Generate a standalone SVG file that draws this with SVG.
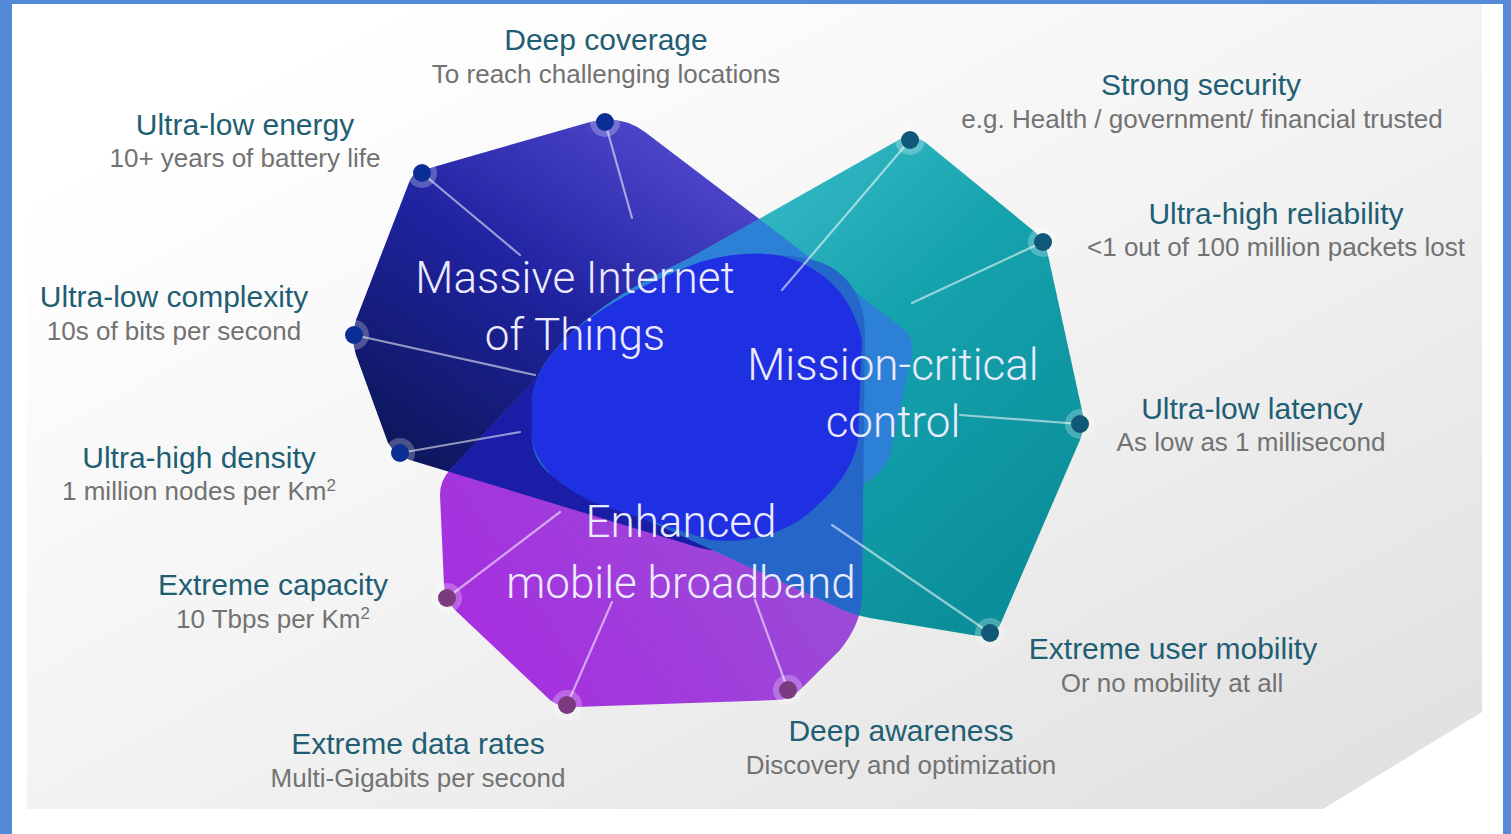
<svg xmlns="http://www.w3.org/2000/svg" width="1511" height="834" viewBox="0 0 1511 834">
<defs>
<style>
.t{font-family:"Liberation Sans",Arial,sans-serif;font-size:30px;fill:#1f5e73;text-anchor:middle}
.s{font-family:"Liberation Sans",Arial,sans-serif;font-size:26px;fill:#727272;text-anchor:middle}
.big{font-family:Roboto,"Liberation Sans",sans-serif;font-weight:300;font-size:44px;fill:#eceaff;text-anchor:middle}
.ln{stroke:#ffffff;stroke-width:2.2;stroke-opacity:0.55;fill:none;stroke-linecap:round}
.halo{fill:#ffffff;fill-opacity:0.25}
.na{fill:#0b2d96}
.nb{fill:#0f5878}
.nc{fill:#7b3b7e}
</style>
<linearGradient id="bg" x1="0.15" y1="0.1" x2="0.95" y2="0.95">
<stop offset="0" stop-color="#ffffff"/>
<stop offset="0.5" stop-color="#f2f2f2"/>
<stop offset="1" stop-color="#e1e1e1"/>
</linearGradient>
<linearGradient id="gA" x1="0.05" y1="0.85" x2="0.75" y2="0.05">
<stop offset="0" stop-color="#0a1550"/>
<stop offset="0.5" stop-color="#1f23a0"/>
<stop offset="1" stop-color="#5b4fd6"/>
</linearGradient>
<linearGradient id="gB" x1="0.1" y1="0.1" x2="0.9" y2="0.9">
<stop offset="0" stop-color="#48c4d2"/>
<stop offset="0.5" stop-color="#15a3ae"/>
<stop offset="1" stop-color="#0a8e99"/>
</linearGradient>
<linearGradient id="gC" x1="0" y1="1" x2="1" y2="0.3">
<stop offset="0" stop-color="#a82ae2"/>
<stop offset="1" stop-color="#9656d2"/>
</linearGradient>
<path id="pA" d="M430,168 L590,122 Q620,114 645,132 L905,330 Q915,340 912,355 L890,455 Q885,470 870,480 L745,545 Q725,555 700,548 L410,460 Q395,455 388,443 L356,355 Q350,338 356,320 L410,180 Q415,170 430,168 Z"/>
<path id="pB" d="M895,142 Q910,132 925,142 L1035,232 Q1045,240 1048,255 L1083,415 Q1085,428 1080,440 L1000,625 Q993,638 978,636 L870,618 Q850,614 835,606 L560,480 Q530,465 532,430 L532,400 Q535,370 560,345 Q600,300 690,258 Z"/>
<path id="pC" d="M450,470 L530,385 Q560,350 620,315 L700,268 Q760,245 820,262 Q862,278 865,330 L862,600 Q860,625 840,650 L800,690 Q790,700 775,700 L575,707 Q560,708 550,700 L455,610 Q445,600 444,585 L440,495 Q440,480 450,470 Z"/>
<clipPath id="cA"><use href="#pA"/></clipPath>
<clipPath id="cC"><use href="#pC"/></clipPath>
</defs>

<rect x="0" y="0" width="1511" height="834" fill="#558ad8"/>
<rect x="12" y="4" width="1491" height="830" fill="#ffffff"/>
<polygon points="27,4 1482,4 1482,712 1323,809 27,809" fill="url(#bg)"/>

<g id="shapes">
<use id="shape-miot" href="#pA" fill="url(#gA)"/>
<use id="shape-embb" href="#pC" fill="url(#gC)"/>
<use id="shape-mcc" href="#pB" fill="url(#gB)"/>
<use href="#pC" fill="#1a1ea6" clip-path="url(#cA)"/>
<use href="#pB" fill="#2c80d6" clip-path="url(#cA)"/>
<use href="#pB" fill="#2467c9" clip-path="url(#cC)"/>
<path d="M560,345 Q600,300 700,262 Q760,245 800,262 Q850,285 862,340 L858,440 Q852,480 800,520 Q760,545 710,540 L600,505 Q540,480 532,440 L532,400 Q535,370 560,345 Z" fill="#1f30e2"/>
</g>

<g id="connectors">
<line class="ln" x1="605" y1="122" x2="632" y2="218"/>
<line class="ln" x1="422" y1="173" x2="520" y2="255"/>
<line class="ln" x1="354" y1="335" x2="535" y2="375"/>
<line class="ln" x1="400" y1="453" x2="520" y2="432"/>
<line class="ln" x1="910" y1="140" x2="782" y2="290"/>
<line class="ln" x1="1043" y1="242" x2="912" y2="303"/>
<line class="ln" x1="1080" y1="424" x2="960" y2="415"/>
<line class="ln" x1="990" y1="633" x2="832" y2="525"/>
<line class="ln" x1="447" y1="598" x2="560" y2="512"/>
<line class="ln" x1="567" y1="705" x2="612" y2="602"/>
<line class="ln" x1="788" y1="690" x2="755" y2="600"/>
</g>

<g id="node-deep-coverage"><circle class="halo" cx="605" cy="122" r="15"/><circle class="na" cx="605" cy="122" r="9"/>
<text class="t" x="606" y="50">Deep coverage</text><text class="s" x="606" y="83">To reach challenging locations</text></g>
<g id="node-ultra-low-energy"><circle class="halo" cx="422" cy="173" r="15"/><circle class="na" cx="422" cy="173" r="9"/>
<text class="t" x="245" y="135">Ultra-low energy</text><text class="s" x="245" y="167">10+ years of battery life</text></g>
<g id="node-ultra-low-complexity"><circle class="halo" cx="354" cy="335" r="15"/><circle class="na" cx="354" cy="335" r="9"/>
<text class="t" x="174" y="307">Ultra-low complexity</text><text class="s" x="174" y="340">10s of bits per second</text></g>
<g id="node-ultra-high-density"><circle class="halo" cx="400" cy="453" r="15"/><circle class="na" cx="400" cy="453" r="9"/>
<text class="t" x="199" y="468">Ultra-high density</text><text class="s" x="199" y="500">1 million nodes per Km<tspan dy="-9" font-size="17">2</tspan></text></g>
<g id="node-extreme-capacity"><circle class="halo" cx="447" cy="598" r="15"/><circle class="nc" cx="447" cy="598" r="9"/>
<text class="t" x="273" y="595">Extreme capacity</text><text class="s" x="273" y="628">10 Tbps per Km<tspan dy="-9" font-size="17">2</tspan></text></g>
<g id="node-extreme-data-rates"><circle class="halo" cx="567" cy="705" r="15"/><circle class="nc" cx="567" cy="705" r="9"/>
<text class="t" x="418" y="754">Extreme data rates</text><text class="s" x="418" y="787">Multi-Gigabits per second</text></g>
<g id="node-deep-awareness"><circle class="halo" cx="788" cy="690" r="15"/><circle class="nc" cx="788" cy="690" r="9"/>
<text class="t" x="901" y="741">Deep awareness</text><text class="s" x="901" y="774">Discovery and optimization</text></g>
<g id="node-extreme-user-mobility"><circle class="halo" cx="990" cy="633" r="15"/><circle class="nb" cx="990" cy="633" r="9"/>
<text class="t" x="1173" y="659">Extreme user mobility</text><text class="s" x="1172" y="692">Or no mobility at all</text></g>
<g id="node-ultra-low-latency"><circle class="halo" cx="1080" cy="424" r="15"/><circle class="nb" cx="1080" cy="424" r="9"/>
<text class="t" x="1252" y="419">Ultra-low latency</text><text class="s" x="1251" y="451">As low as 1 millisecond</text></g>
<g id="node-ultra-high-reliability"><circle class="halo" cx="1043" cy="242" r="15"/><circle class="nb" cx="1043" cy="242" r="9"/>
<text class="t" x="1276" y="224">Ultra-high reliability</text><text class="s" x="1276" y="256">&lt;1 out of 100 million packets lost</text></g>
<g id="node-strong-security"><circle class="halo" cx="910" cy="140" r="15"/><circle class="nb" cx="910" cy="140" r="9"/>
<text class="t" x="1201" y="95">Strong security</text><text class="s" x="1202" y="128">e.g. Health / government/ financial trusted</text></g>

<g id="labels">
<text class="big" x="575" y="293">Massive Internet</text>
<text class="big" x="575" y="350">of Things</text>
<text class="big" x="893" y="380">Mission-critical</text>
<text class="big" x="893" y="437">control</text>
<text class="big" x="681" y="537">Enhanced</text>
<text class="big" x="681" y="598">mobile broadband</text>
</g>
</svg>
